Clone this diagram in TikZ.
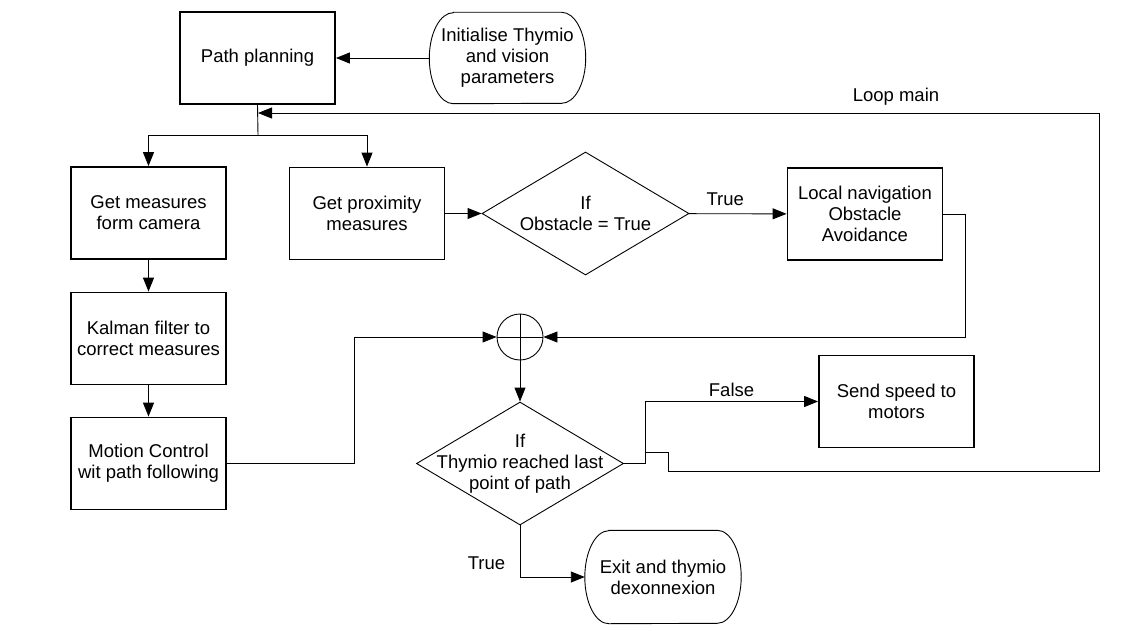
\documentclass[tikz,border=0pt]{standalone}
\usepackage{fontspec}
\setmainfont{Liberation Sans}
\usetikzlibrary{arrows.meta,shapes.geometric}

\tikzset{
  box/.style={draw, line width=1.8pt, minimum width=155pt, minimum height=92pt, align=center, inner sep=0pt},
  term/.style={minimum width=156pt, minimum height=91pt, align=center, inner sep=0pt},
  cond/.style={draw, diamond, line width=0.9pt, minimum width=207pt, minimum height=123pt, inner sep=0pt},
  wire/.style={line width=0.9pt},
  conn/.style={line width=0.9pt, -{Triangle[length=14pt,width=11pt]}}
}

\begin{document}
\begin{tikzpicture}[x=1pt, y=-1pt, font=\fontsize{18.5}{21}\selectfont]
	\useasboundingbox (0,0) rectangle (1126,634);

% boxes
\node[box] (plan) at (257.5,58) {Path planning};
\node[term] (init) at (507.5,58) {Initialise Thymio\\and vision\\parameters};
\node[box] (cam) at (148.5,213) {Get measures\\form camera};
\node[box] (kal) at (148.5,338.5) {Kalman filter to\\correct measures};
\node[box] (mot) at (148.5,463.5) {Motion Control\\wit path following};
\node[box] (prox) at (367,213.5) {Get proximity\\measures};
\node[cond, label={[align=center]center:If\\Obstacle = True}] (obst) at (585.5,213.5) {};
\node[box] (loc) at (865,214) {Local navigation\\Obstacle\\Avoidance};
\node[circle, draw, line width=0.9pt, minimum size=46pt, inner sep=0pt] (sum) at (520,337) {};
\node[cond, label={[align=center]center:If\\Thymio reached last\\point of path}] (reach) at (520,463.5) {};
\node[box] (send) at (896.5,401.5) {Send speed to\\motors};
\node[term, minimum height=93pt] (exit) at (663,577) {Exit and thymio\\dexonnexion};
\node (looplbl) at (896,97) {Loop main};

% terminal outlines
\draw[wire] ([xshift=24pt]init.north west) -- ([xshift=-24pt]init.north east)
  arc[start angle=90, end angle=-90, x radius=24pt, y radius=45.5pt]
  -- ([xshift=24pt]init.south west)
  arc[start angle=270, end angle=90, x radius=24pt, y radius=45.5pt] -- cycle;
\draw[wire] ([xshift=24pt]exit.north west) -- ([xshift=-24pt]exit.north east)
  arc[start angle=90, end angle=-90, x radius=24pt, y radius=46.5pt]
  -- ([xshift=24pt]exit.south west)
  arc[start angle=270, end angle=90, x radius=24pt, y radius=46.5pt] -- cycle;

\coordinate (split) at (258,135);
\coordinate (fork) at (645,463.5);
\coordinate (loopout) at (645,452);
\coordinate (loopin) at (258,113);

% cross in the sum
\draw[wire] (sum.north) -- (sum.south);
\draw[wire] (sum.west) -- (sum.east);

% connectors
\draw[conn] (init) -- (plan);
\draw[wire] (plan.south) -- (split);
\draw[conn] (split) -| (cam.north);
\draw[conn] (split) -| (prox.north);
\draw[conn] (cam) -- (kal);
\draw[conn] (kal) -- (mot);
\draw[conn] (prox) -- (obst);
\draw[conn] (obst) -- node[above=4pt, pos=0.37]{True} (loc);
\draw[conn] (loc.east) -- ++(22,0) |- (sum.east);
\draw[conn] (mot.east) -- ++(128,0) |- (sum.west);
\draw[conn] (sum) -- (reach);
\draw[wire] (reach.east) -- (fork);
\draw[conn] (fork) |- node[above=1pt, pos=0.75]{False} (send.west);
\draw[conn] (loopout) -- ++(23,0) -- ++(0,19) -- (1099,471) -- (1099,113) -- (loopin);
\draw[conn] (reach.south) |- node[left=11pt, pos=0.37]{True} (exit.west);

\end{tikzpicture}
\end{document}
